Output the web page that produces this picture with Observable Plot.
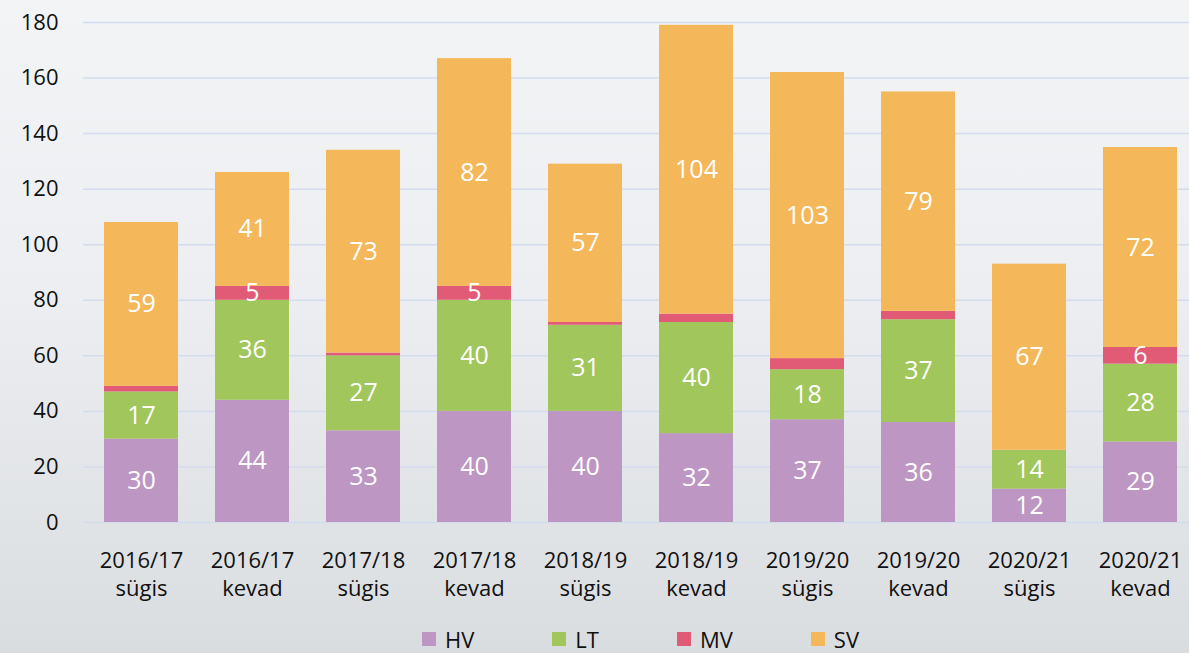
<!DOCTYPE html>
<html>
<head>
<meta charset="utf-8">
<script src="https://cdn.jsdelivr.net/npm/d3@7"></script>
<script src="https://cdn.jsdelivr.net/npm/@observablehq/plot@0.6"></script>
<style>
  html, body { margin: 0; padding: 0; width: 1189px; height: 653px; overflow: hidden; }
  body {
    background: linear-gradient(180deg, #f2f4f6 0%, #eceef1 45%, #dadde0 100%);
    font-family: "Open Sans", "Noto Sans", sans-serif;
  }
  #chart { width: 1189px; height: 610px; overflow: hidden; }
  #chart svg { display: block; background: transparent; max-width: none !important; width: 1198px !important; height: 610px !important; }
  .legend { display: flex; gap: 78px; padding-left: 422px; padding-top: 18px; height: 43px; box-sizing: border-box; }
  .legend .item { display: flex; align-items: center; font-size: 22px; line-height: 22px; height: 22px; color: #111; }
  .legend .sw { width: 14px; height: 14px; margin-right: 9px; }
</style>
</head>
<body>
<div id="chart"></div>
<div class="legend" id="legend"></div>
<script>
const categories = ["2016/17 sügis", "2016/17 kevad", "2017/18 sügis", "2017/18 kevad", "2018/19 sügis", "2018/19 kevad", "2019/20 sügis", "2019/20 kevad", "2020/21 sügis", "2020/21 kevad"];
const series = ["HV", "LT", "MV", "SV"];
const HV = [30, 44, 33, 40, 40, 32, 37, 36, 12, 29];
const LT = [17, 36, 27, 40, 31, 40, 18, 37, 14, 28];
const MV = [2, 5, 1, 5, 1, 3, 4, 3, 0, 6];
const SV = [59, 41, 73, 82, 57, 104, 103, 79, 67, 72];
const yTicks = [0, 20, 40, 60, 80, 100, 120, 140, 160, 180];
const colors = ["#bd96c3", "#a1c65b", "#e25b76", "#f4b85b"];

const valuesBySeries = {HV, LT, MV, SV};
const data = [];
categories.forEach((c, i) => {
  series.forEach(s => data.push({category: c, series: s, value: valuesBySeries[s][i]}));
});

const chart = Plot.plot({
  width: 1198,
  height: 610,
  marginTop: 22,
  marginLeft: 83,
  marginRight: 0,
  marginBottom: 88,
  style: {background: "transparent", fontFamily: "'Open Sans', 'Noto Sans', sans-serif", color: "#111"},
  x: {domain: categories, paddingInner: 0.335, paddingOuter: 0.171, label: null},
  y: {domain: [0, 180], label: null},
  color: {domain: series, range: colors},
  marks: [
    Plot.gridY(yTicks, {stroke: "#d3dcee", strokeOpacity: 1, strokeWidth: 1.5}),
    Plot.barY(data, {x: "category", y: "value", fill: "series", z: "series", order: series}),
    Plot.text(data, Plot.stackY({
      x: "category", y: "value", z: "series", order: series,
      text: d => d.value >= 5 ? String(d.value) : "",
      fill: "white", fontSize: 25
    })),
    Plot.axisY(yTicks, {tickSize: 0, tickPadding: 25, fontSize: 22, label: null}),
    Plot.axisX({tickSize: 0, tickPadding: 25, fontSize: 22, lineHeight: 1.3, label: null,
      tickFormat: d => d.replace(" ", "\n")})
  ]
});
document.getElementById("chart").appendChild(chart);

const legend = document.getElementById("legend");
series.forEach((s, i) => {
  const item = document.createElement("div");
  item.className = "item";
  const sw = document.createElement("span");
  sw.className = "sw";
  sw.style.background = colors[i];
  const t = document.createElement("span");
  t.textContent = s;
  item.appendChild(sw);
  item.appendChild(t);
  legend.appendChild(item);
});
</script>
</body>
</html>
